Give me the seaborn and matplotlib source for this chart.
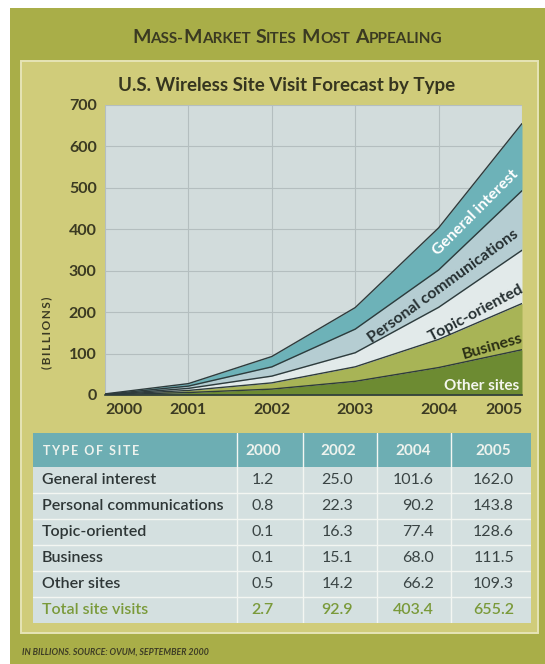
import matplotlib
matplotlib.use("Agg")
import matplotlib.pyplot as plt
from matplotlib.patches import Rectangle
from matplotlib.text import Annotation
import pandas as pd
import seaborn as sns

# ---------------- data ----------------
years = [2000, 2001, 2002, 2003, 2004, 2005]
other_sites = [0.5, 6.0, 14.2, 33.0, 66.2, 109.3]
business = [0.1, 5.0, 15.1, 35.0, 68.0, 111.5]
topic_oriented = [0.1, 5.0, 16.3, 34.0, 77.4, 128.6]
personal_comm = [0.8, 5.5, 22.3, 57.0, 90.2, 143.8]
general_interest = [1.2, 6.0, 25.0, 52.0, 101.6, 162.0]
layer_names = ["Other sites", "Business", "Topic-oriented",
               "Personal communications", "General interest"]
y_ticks = [0, 100, 200, 300, 400, 500, 600, 700]

table_years = ["2000", "2002", "2004", "2005"]
table_sites = ["General interest", "Personal communications", "Topic-oriented",
               "Business", "Other sites"]
tbl_general = [1.2, 25.0, 101.6, 162.0]
tbl_personal = [0.8, 22.3, 90.2, 143.8]
tbl_topic = [0.1, 16.3, 77.4, 128.6]
tbl_business = [0.1, 15.1, 68.0, 111.5]
tbl_other = [0.5, 14.2, 66.2, 109.3]
tbl_total = [2.7, 92.9, 403.4, 655.2]
total_label = "Total site visits"

main_title = "Mass-Market Sites Most Appealing"
chart_title = "U.S. Wireless Site Visit Forecast by Type"
source_note = "IN BILLIONS. SOURCE: OVUM, SEPTEMBER 2000"
table_head = "TYPE OF SITE"
y_unit = "(BILLIONS)"

# ---------------- style ----------------
GREEN = "#a9ae48"
PANEL = "#d0cc7a"
PANEL_EDGE = "#e6e4b6"
TXT = "#3b3a22"
PLOT_BG = "#d2dcdc"
GRID = "#b4bebf"
EDGE = "#2e3b3c"
layer_colors = ["#6d8b32", "#a8b456", "#e2eaea", "#b5cdd2", "#6db2b8"]
HEADER = "#6daeb3"
BODY = "#d4e0e0"
TOTAL_C = "#7a9a3a"
BODY_TXT = "#2e3636"

W, H = 545, 664
sns.set_theme(style="white")
plt.rcParams["font.family"] = ["Lato", "DejaVu Sans"]

fig = plt.figure(figsize=(W / 100, H / 100), dpi=100, facecolor="white")


def fx(px):
    return px / W


def fy(py):
    return 1 - py / H


def spaced(s):
    # light letter spacing with thin spaces
    return "\u2009".join(s).replace("\u2009 \u2009", "  ")


# background panels
fig.patches.append(Rectangle((fx(10), 0), 1, fy(8), transform=fig.transFigure,
                             fc=GREEN, ec="none", zorder=-3))
fig.patches.append(Rectangle((fx(21), fy(633)), fx(538 - 21), (633 - 61) / H,
                             transform=fig.transFigure, fc=PANEL, ec=PANEL_EDGE,
                             lw=1.4, zorder=-2))

# ---------------- chart ----------------
ax = fig.add_axes([fx(105), fy(395), fx(522 - 105), (395 - 105) / H])
ax.set_zorder(1)
ax.set_facecolor(PLOT_BG)

df = pd.DataFrame({"year": years, "Other sites": other_sites, "Business": business,
                   "Topic-oriented": topic_oriented,
                   "Personal communications": personal_comm,
                   "General interest": general_interest})
ax.stackplot(df["year"], *[df[n] for n in layer_names], colors=layer_colors,
             linewidth=0, zorder=2)
cum = df[layer_names].cumsum(axis=1)
cum["year"] = df["year"]
long = cum.melt(id_vars="year", var_name="layer", value_name="top")
sns.lineplot(data=long, x="year", y="top", hue="layer",
             palette={n: EDGE for n in layer_names}, legend=False,
             linewidth=1.0, ax=ax, zorder=3)

ax.set_xlim(years[0], years[-1])
ax.set_ylim(y_ticks[0], y_ticks[-1])
ax.set_xticks(years)
ax.set_xticklabels([str(y) for y in years])
ax.set_yticks(y_ticks)
ax.set_xlabel("")
ax.set_ylabel("")
ax.grid(True, color=GRID, linewidth=0.8)
ax.set_axisbelow(True)
for side in ["top", "right", "left"]:
    ax.spines[side].set_visible(False)
ax.spines["bottom"].set_color(EDGE)
ax.spines["bottom"].set_linewidth(1.2)
ax.spines["bottom"].set_zorder(4)
ax.tick_params(axis="both", length=0, labelsize=11.5, labelcolor=TXT)
ax.tick_params(axis="x", pad=6)
ax.tick_params(axis="y", pad=6)
for lab in ax.get_xticklabels() + ax.get_yticklabels():
    lab.set_fontweight("bold")
xt = ax.get_xticklabels()
xt[0].set_ha("left")
xt[-1].set_ha("right")

# in-chart layer labels
lab_kw = dict(fontsize=11.5, fontweight="bold", ha="center", va="center",
              rotation_mode="anchor", zorder=5)
ax.text(2004.45, 440, "General interest", color="white", rotation=45, **lab_kw)
ax.text(2004.05, 262, "Personal communications", color="#263032", rotation=36, **lab_kw)
ax.text(2004.45, 198, "Topic-oriented", color="#263032", rotation=28, **lab_kw)
ax.text(2004.65, 116, "Business", color="#2a2e14", rotation=16, **lab_kw)
ax.text(2004.52, 22, "Other sites", color="#f4f6ee", rotation=0,
        **{**lab_kw, "fontsize": 11})

fig.text(fx(47), fy(333), spaced(y_unit), rotation=90, ha="center", va="center",
         fontsize=8.5, fontweight="bold", color=TXT)

fig.text(fx(287), fy(86), chart_title, ha="center", va="center", fontsize=13.5,
         fontweight="bold", color="#36351f")

# ---------------- table ----------------
tax = fig.add_axes([fx(33), fy(623), fx(531 - 33), (623 - 433) / H])
tax.set_zorder(1)
tax.set_xlim(33, 531)
tax.set_ylim(623, 433)
tax.axis("off")
tax.add_patch(Rectangle((33, 433), 498, 34, fc=HEADER, ec="none"))
tax.add_patch(Rectangle((33, 467), 498, 156, fc=BODY, ec="none"))
row_h = 26
for k in range(1, 6):
    tax.axhline(467 + row_h * k, color="#f3f6f2", lw=1.0)
for xd in [237, 303, 377, 451]:
    tax.axvline(xd, color="#f3f6f2", lw=1.0)

head_centers = [263, 338, 413, 493]
num_right = [274, 353, 434, 514]
tax.text(43, 451, spaced(table_head), ha="left", va="center", fontsize=9,
         fontweight="bold", color="#eef3ee")
for yr, xc in zip(table_years, head_centers):
    tax.text(xc, 451, yr, ha="center", va="center", fontsize=11,
             fontweight="bold", color="#eef3ee")

rows = [tbl_general, tbl_personal, tbl_topic, tbl_business, tbl_other]
for i, (name, vals) in enumerate(zip(table_sites, rows)):
    yc = 467 + row_h * i + row_h / 2
    tax.text(42, yc, name, ha="left", va="center", fontsize=11.5,
             fontweight="semibold", color=BODY_TXT)
    for v, xr in zip(vals, num_right):
        tax.text(xr, yc, f"{v:.1f}", ha="right", va="center", fontsize=11.5,
                 color="#3a4444")
yc = 467 + row_h * 5 + row_h / 2
tax.text(42, yc, total_label, ha="left", va="center", fontsize=11.5,
         fontweight="semibold", color=TOTAL_C)
for v, xr in zip(tbl_total, num_right):
    tax.text(xr, yc, f"{v:.1f}", ha="right", va="center", fontsize=11.5,
             fontweight="semibold", color=TOTAL_C)

fig.text(fx(22), fy(652), source_note, ha="left", va="center", fontsize=6.3,
         style="italic", fontweight="bold", color="#3d3c25")


# ---------------- small-caps main title ----------------
def small_caps(text, xc_px, ybot_px, big, small, color):
    pieces = []
    for wi, word in enumerate(text.split(" ")):
        runs = []
        for ch in word:
            isbig = ch.isupper()
            if runs and runs[-1][1] == isbig:
                runs[-1][0] += ch
            else:
                runs.append([ch, isbig])
        for ri, (s, isbig) in enumerate(runs):
            gap = 3.5 if (wi > 0 and ri == 0) else 0.0
            pieces.append((s.upper(), big if isbig else small, gap))
    s0, size0, _ = pieces[0]
    first = fig.text(0, fy(ybot_px), s0, fontsize=size0, fontweight="bold",
                     color=color, ha="left", va="bottom")
    arts = [first]
    prev = first
    for s, size, gap in pieces[1:]:
        a = Annotation(s, xy=(1, 0), xycoords=prev, xytext=(gap, 0),
                       textcoords="offset points", fontsize=size,
                       fontweight="bold", color=color, ha="left", va="bottom")
        fig.add_artist(a)
        arts.append(a)
        prev = a
    fig.canvas.draw()
    r = fig.canvas.get_renderer()
    x0 = min(a.get_window_extent(r).x0 for a in arts)
    x1 = max(a.get_window_extent(r).x1 for a in arts)
    first.set_x((xc_px - (x1 - x0) / 2) / W)


small_caps(main_title, 287, 46, 14, 11, TXT)

fig.savefig("out.png", dpi=100, facecolor="white")
